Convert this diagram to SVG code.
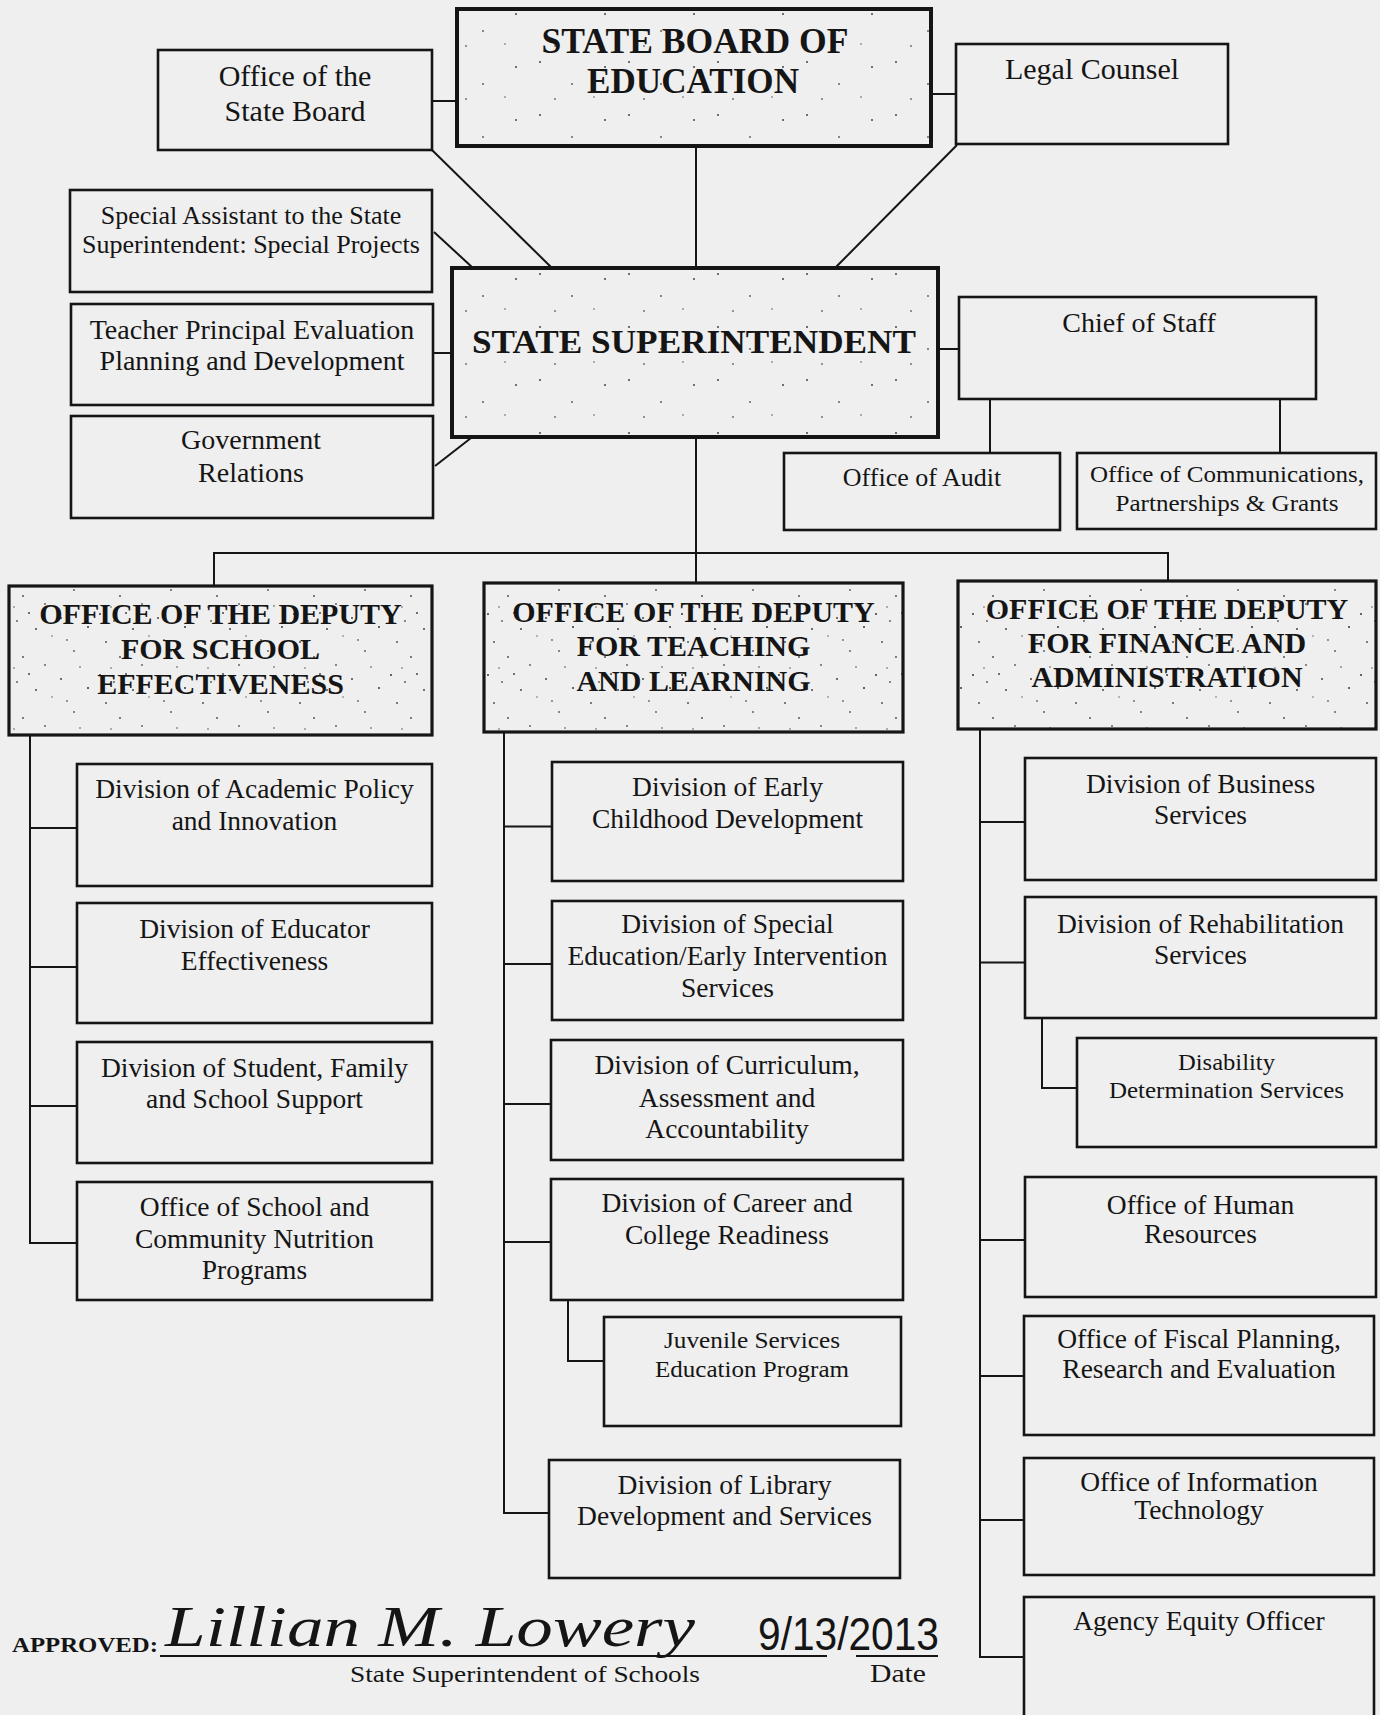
<svg xmlns="http://www.w3.org/2000/svg" width="1380" height="1715" viewBox="0 0 1380 1715">
<defs>
<pattern id="speck" width="97" height="61" patternUnits="userSpaceOnUse">
<circle cx="3" cy="4" r="1" fill="#333"/>
<circle cx="17" cy="11" r="0.9" fill="#555"/>
<circle cx="29" cy="3" r="1" fill="#444"/>
<circle cx="36" cy="19" r="0.9" fill="#333"/>
<circle cx="9" cy="32" r="1" fill="#555"/>
<circle cx="23" cy="47" r="0.9" fill="#444"/>
<circle cx="52" cy="26" r="0.8" fill="#666"/>
<circle cx="61" cy="8" r="1" fill="#444"/>
<circle cx="74" cy="41" r="0.9" fill="#555"/>
<circle cx="88" cy="17" r="1" fill="#333"/>
<circle cx="45" cy="55" r="0.9" fill="#555"/>
<circle cx="80" cy="57" r="0.8" fill="#444"/>
<circle cx="67" cy="30" r="0.9" fill="#666"/>
<circle cx="14" cy="58" r="0.8" fill="#555"/>
</pattern>
<pattern id="speck2" width="89" height="53" patternUnits="userSpaceOnUse">
<circle cx="6" cy="9" r="1" fill="#444"/>
<circle cx="38" cy="31" r="0.9" fill="#555"/>
<circle cx="71" cy="14" r="1" fill="#444"/>
<circle cx="21" cy="46" r="0.9" fill="#666"/>
<circle cx="60" cy="44" r="0.8" fill="#555"/>
</pattern>
<style>
.bx{fill:none;stroke:#151515;stroke-width:2.6}
.hb{fill:url(#speck2);stroke:#151515;stroke-width:4}
.dp{fill:url(#speck);stroke:#151515;stroke-width:3.2}
.ln{fill:none;stroke:#151515;stroke-width:2}
text{font-family:"Liberation Serif","Times New Roman",serif;fill:#151515;text-anchor:middle}
.t30{font-size:30px}
.t28{font-size:28px}
.t27{font-size:27.5px}
.t26{font-size:26px}
.t24{font-size:24px}
.b35{font-size:35px;font-weight:bold}
.b34{font-size:34px;font-weight:bold}
.b30{font-size:30px;font-weight:bold}
</style>
</defs>
<rect x="0" y="0" width="1380" height="1715" fill="#efefef"/>

<g id="connectors">
<line class="ln" x1="432" y1="101" x2="457" y2="101"/>
<line class="ln" x1="931" y1="94" x2="956" y2="94"/>
<line class="ln" x1="696" y1="146" x2="696" y2="268"/>
<line class="ln" x1="432" y1="150" x2="553" y2="269"/>
<line class="ln" x1="957" y1="145" x2="836" y2="267"/>
<line class="ln" x1="434" y1="232" x2="473" y2="268"/>
<line class="ln" x1="433" y1="353" x2="452" y2="353"/>
<line class="ln" x1="435" y1="466" x2="471" y2="438"/>
<line class="ln" x1="938" y1="349" x2="959" y2="349"/>
<line class="ln" x1="990" y1="399" x2="990" y2="453"/>
<line class="ln" x1="1280" y1="399" x2="1280" y2="453"/>
<line class="ln" x1="696" y1="437" x2="696" y2="583"/>
<polyline class="ln" points="214,586 214,553 1168,553 1168,581"/>
<polyline class="ln" points="30,735 30,1243"/>
<line class="ln" x1="30" y1="828" x2="77" y2="828"/>
<line class="ln" x1="30" y1="967" x2="77" y2="967"/>
<line class="ln" x1="30" y1="1106" x2="77" y2="1106"/>
<line class="ln" x1="29" y1="1243" x2="77" y2="1243"/>
<polyline class="ln" points="504,732 504,1513"/>
<line class="ln" x1="504" y1="826.5" x2="552" y2="826.5"/>
<line class="ln" x1="504" y1="964" x2="552" y2="964"/>
<line class="ln" x1="504" y1="1104" x2="552" y2="1104"/>
<line class="ln" x1="504" y1="1242" x2="552" y2="1242"/>
<line class="ln" x1="503" y1="1513" x2="549" y2="1513"/>
<polyline class="ln" points="568,1300 568,1361 604,1361"/>
<polyline class="ln" points="980,729 980,1657"/>
<line class="ln" x1="980" y1="822" x2="1025" y2="822"/>
<line class="ln" x1="980" y1="962.5" x2="1025" y2="962.5"/>
<line class="ln" x1="980" y1="1240" x2="1025" y2="1240"/>
<line class="ln" x1="980" y1="1376" x2="1024" y2="1376"/>
<line class="ln" x1="980" y1="1520" x2="1024" y2="1520"/>
<line class="ln" x1="979" y1="1657" x2="1024" y2="1657"/>
<polyline class="ln" points="1042,1018 1042,1088 1077,1088"/>
</g>

<g id="state-board">
<rect class="hb" x="457" y="9" width="474" height="137"/>
<text class="b35" x="695" y="53" textLength="307" lengthAdjust="spacingAndGlyphs">STATE BOARD OF</text>
<text class="b35" x="693" y="93" textLength="212" lengthAdjust="spacingAndGlyphs">EDUCATION</text>
</g>
<g id="office-state-board">
<rect class="bx" x="158" y="50" width="274" height="100"/>
<text class="t30" x="295" y="86">Office of the</text>
<text class="t30" x="295" y="120.5">State Board</text>
</g>
<g id="legal-counsel">
<rect class="bx" x="956" y="44" width="272" height="100"/>
<text class="t30" x="1092" y="79">Legal Counsel</text>
</g>
<g id="special-assistant">
<rect class="bx" x="70" y="190" width="362" height="102"/>
<text class="t26" x="251" y="224">Special Assistant to the State</text>
<text class="t26" x="251" y="253">Superintendent: Special Projects</text>
</g>
<g id="teacher-principal">
<rect class="bx" x="71" y="304" width="362" height="101"/>
<text class="t28" x="252" y="339">Teacher Principal Evaluation</text>
<text class="t28" x="252" y="370">Planning and Development</text>
</g>
<g id="government-relations">
<rect class="bx" x="71" y="416" width="362" height="102"/>
<text class="t28" x="251" y="449">Government</text>
<text class="t28" x="251" y="482">Relations</text>
</g>
<g id="state-superintendent">
<rect class="hb" x="452" y="268" width="486" height="169"/>
<text class="b34" x="694" y="353" textLength="444" lengthAdjust="spacingAndGlyphs">STATE SUPERINTENDENT</text>
</g>
<g id="chief-of-staff">
<rect class="bx" x="959" y="297" width="357" height="102"/>
<text class="t28" x="1139" y="332">Chief of Staff</text>
</g>
<g id="office-audit">
<rect class="bx" x="784" y="453" width="276" height="77"/>
<text class="t26" x="922" y="485.5">Office of Audit</text>
</g>
<g id="office-communications">
<rect class="bx" x="1077" y="453" width="299" height="76"/>
<text class="t24" x="1227" y="482" textLength="274" lengthAdjust="spacingAndGlyphs">Office of Communications,</text>
<text class="t24" x="1227" y="511" textLength="223" lengthAdjust="spacingAndGlyphs">Partnerships &amp; Grants</text>
</g>

<g id="deputy-school">
<rect class="dp" x="9" y="586" width="423" height="149"/>
<text class="b30" x="220.5" y="624">OFFICE OF THE DEPUTY</text>
<text class="b30" x="220.5" y="659">FOR SCHOOL</text>
<text class="b30" x="220.5" y="694">EFFECTIVENESS</text>
</g>
<g id="deputy-teaching">
<rect class="dp" x="484" y="583" width="419" height="149"/>
<text class="b30" x="693.5" y="622">OFFICE OF THE DEPUTY</text>
<text class="b30" x="693.5" y="656">FOR TEACHING</text>
<text class="b30" x="693.5" y="691">AND LEARNING</text>
</g>
<g id="deputy-finance">
<rect class="dp" x="958" y="581" width="418" height="148"/>
<text class="b30" x="1167" y="619">OFFICE OF THE DEPUTY</text>
<text class="b30" x="1167" y="653">FOR FINANCE AND</text>
<text class="b30" x="1167" y="687">ADMINISTRATION</text>
</g>

<g id="academic-policy">
<rect class="bx" x="77" y="764" width="355" height="122"/>
<text class="t27" x="254.5" y="798">Division of Academic Policy</text>
<text class="t27" x="254.5" y="830">and Innovation</text>
</g>
<g id="educator-effectiveness">
<rect class="bx" x="77" y="903" width="355" height="120"/>
<text class="t27" x="254.5" y="937.5">Division of Educator</text>
<text class="t27" x="254.5" y="969.5">Effectiveness</text>
</g>
<g id="student-family">
<rect class="bx" x="77" y="1042" width="355" height="121"/>
<text class="t27" x="254.5" y="1076.5">Division of Student, Family</text>
<text class="t27" x="254.5" y="1108">and School Support</text>
</g>
<g id="nutrition">
<rect class="bx" x="77" y="1182" width="355" height="118"/>
<text class="t27" x="254.5" y="1216">Office of School and</text>
<text class="t27" x="254.5" y="1248">Community Nutrition</text>
<text class="t27" x="254.5" y="1279">Programs</text>
</g>

<g id="early-childhood">
<rect class="bx" x="552" y="762" width="351" height="119"/>
<text class="t27" x="727.5" y="796">Division of Early</text>
<text class="t27" x="727.5" y="827.5">Childhood Development</text>
</g>
<g id="special-education">
<rect class="bx" x="552" y="901" width="351" height="119"/>
<text class="t27" x="727.5" y="933">Division of Special</text>
<text class="t27" x="727.5" y="965">Education/Early Intervention</text>
<text class="t27" x="727.5" y="996.5">Services</text>
</g>
<g id="curriculum">
<rect class="bx" x="551" y="1040" width="352" height="120"/>
<text class="t27" x="727" y="1073.5">Division of Curriculum,</text>
<text class="t27" x="727" y="1106.5">Assessment and</text>
<text class="t27" x="727" y="1138">Accountability</text>
</g>
<g id="career-college">
<rect class="bx" x="551" y="1179" width="352" height="121"/>
<text class="t27" x="727" y="1212">Division of Career and</text>
<text class="t27" x="727" y="1244">College Readiness</text>
</g>
<g id="juvenile-services">
<rect class="bx" x="604" y="1317" width="297" height="109"/>
<text class="t24" x="752" y="1348" textLength="176" lengthAdjust="spacingAndGlyphs">Juvenile Services</text>
<text class="t24" x="752" y="1377" textLength="194" lengthAdjust="spacingAndGlyphs">Education Program</text>
</g>
<g id="library">
<rect class="bx" x="549" y="1460" width="351" height="118"/>
<text class="t27" x="724.5" y="1494">Division of Library</text>
<text class="t27" x="724.5" y="1525">Development and Services</text>
</g>

<g id="business-services">
<rect class="bx" x="1025" y="758" width="351" height="122"/>
<text class="t27" x="1200.5" y="793">Division of Business</text>
<text class="t27" x="1200.5" y="824">Services</text>
</g>
<g id="rehabilitation">
<rect class="bx" x="1025" y="897" width="351" height="121"/>
<text class="t27" x="1200.5" y="933">Division of Rehabilitation</text>
<text class="t27" x="1200.5" y="964">Services</text>
</g>
<g id="disability">
<rect class="bx" x="1077" y="1038" width="299" height="109"/>
<text class="t24" x="1226.5" y="1070" textLength="97" lengthAdjust="spacingAndGlyphs">Disability</text>
<text class="t24" x="1226.5" y="1098" textLength="235" lengthAdjust="spacingAndGlyphs">Determination Services</text>
</g>
<g id="human-resources">
<rect class="bx" x="1025" y="1177" width="351" height="120"/>
<text class="t27" x="1200.5" y="1213.5">Office of Human</text>
<text class="t27" x="1200.5" y="1243">Resources</text>
</g>
<g id="fiscal-planning">
<rect class="bx" x="1024" y="1316" width="350" height="119"/>
<text class="t27" x="1199" y="1348">Office of Fiscal Planning,</text>
<text class="t27" x="1199" y="1378">Research and Evaluation</text>
</g>
<g id="information-technology">
<rect class="bx" x="1024" y="1458" width="350" height="117"/>
<text class="t27" x="1199" y="1491">Office of Information</text>
<text class="t27" x="1199" y="1519">Technology</text>
</g>
<g id="agency-equity">
<rect class="bx" x="1024" y="1597" width="350" height="130"/>
<text class="t27" x="1199" y="1630">Agency Equity Officer</text>
</g>

<g id="approval">
<text x="12" y="1652" style="font-size:22px;font-weight:bold;text-anchor:start" textLength="146" lengthAdjust="spacingAndGlyphs">APPROVED:</text>
<line class="ln" x1="160" y1="1656" x2="827" y2="1656"/>
<text x="165" y="1646" style="font-size:56px;font-style:italic;text-anchor:start" textLength="530" lengthAdjust="spacingAndGlyphs">Lillian M. Lowery</text>
<text x="350" y="1682" style="font-size:24px;text-anchor:start" textLength="350" lengthAdjust="spacingAndGlyphs">State Superintendent of Schools</text>
<text x="758" y="1650" style="font-family:'Liberation Sans',Arial,sans-serif;font-size:46px;text-anchor:start" textLength="181" lengthAdjust="spacingAndGlyphs">9/13/2013</text>
<line class="ln" x1="856" y1="1656" x2="938" y2="1656"/>
<text x="870" y="1682" style="font-size:26px;text-anchor:start" textLength="56" lengthAdjust="spacingAndGlyphs">Date</text>
</g>
</svg>
